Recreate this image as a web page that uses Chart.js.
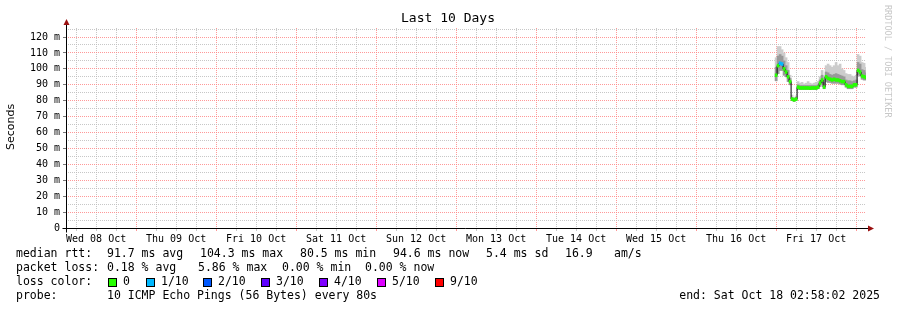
<!DOCTYPE html>
<html><head><meta charset="utf-8">
<script src="https://cdn.jsdelivr.net/npm/chart.js@4/dist/chart.umd.min.js"></script>
<style>html,body{margin:0;padding:0;background:#fff;}#wrap{width:897px;height:310px;position:relative}</style>
</head><body><div id="wrap"><canvas id="c" width="897" height="310"></canvas></div>
<script>
// time axis: hours after Wed 08 Oct 2025 00:00
const graphStartHour = 2.9672;      // Wed 08 Oct 02:58:02
const graphEndHour = 242.9672;      // Sat 18 Oct 02:58:02
const firstSampleHour = 216.0;      // first sample with data (Fri 17 Oct ~00:00)
const sampleStepHours = 0.6;

const dayLabels = ['Wed 08 Oct','Thu 09 Oct','Fri 10 Oct','Sat 11 Oct','Sun 12 Oct','Mon 13 Oct','Tue 14 Oct','Wed 15 Oct','Thu 16 Oct','Fri 17 Oct'];

// median rtt (ms)
const median = [96,102,103.5,103,100,98,95,92,81,80.5,
  81,88.5,88,88,88,88,88,87.8,88,88,
  88,88.5,91,93,88.5,95,94,93.5,93,93.5,
  93,93,92.5,92,92,90,89,89,89,90,
  90,99,98,95.5,95,94.6];
// smoke extents (ms)
const smokeMin = [92.5,97,99,99,96,95,92,90,80,79.5,
  80,87,87,87,87,87,87,87,87,87,
  87,87.5,89,91,87.5,92,91.5,91.5,91,91,
  91,91,90.5,90,90,88.5,87.5,87.5,87.5,88.5,
  88.5,96,95.5,93.5,93,93];
const smokeMid = [101,108,109,108,105,102,99,94,82,81,
  82,90,89.5,89.5,89.5,89.5,89.5,89.5,89.5,89.5,
  89.5,90,93,96,91.5,98,97.5,96.5,96,96.5,
  97,96.5,96,95.5,95,93,92.5,92.5,92,92.5,
  93,104,103,99.5,99,97.5];
const smokeMax = [107,114,114,112,110,107,104,96,83.5,82,
  83,92,91,91.5,90.5,91,92,91,90.5,91,
  91.5,92,95,99,95,102,103,102,101,102,
  104,102,103,100,99,97,96.5,96.5,95.5,95,
  96,109,108,104,103.5,101];
// packet loss per sample (pings lost out of 10)
const lossTenths = [0,0,1,1,0,0,0,0,0,0,
  0,0,0,0,0,0,0,0,0,0,
  0,0,0,0,0,0,0,0,0,0,
  0,0,0,0,0,0,0,0,0,0,
  0,0,0,0,0,0];

const lossColors = {0:'#26ff00',1:'#00b8ff',2:'#0059ff',3:'#5e00ff',4:'#7e00ff',5:'#dd00ff',9:'#ff0000'};
const legendLossKeys = [0,1,2,3,4,5,9];
const legendLossLabels = ['0','1/10','2/10','3/10','4/10','5/10','9/10'];

const hours = median.map((_, i) => firstSampleHour + i * sampleStepHours);
const pts = (lo, hi) => hours.map((h, i) => ({x: h, y: [lo[i], hi[i]]}));
const BAND = 0.9; // half thickness of the loss-coloured median band (style)

const MONO = '"DejaVu Sans Mono", monospace';
const RED_GRID = 'rgba(255,128,128,0.8)';
const GRAY_GRID = 'rgba(185,185,185,0.8)';

const overlay = {
  id: 'overlay',
  afterDraw(chart) {
    const ctx = chart.ctx;
    const xs = chart.scales.x, ys = chart.scales.y;
    const x0 = Math.round(xs.left) + 0.5, y0 = Math.round(ys.bottom) + 0.5;
    ctx.save();
    // axes
    ctx.strokeStyle = '#000'; ctx.lineWidth = 1;
    ctx.beginPath();
    ctx.moveTo(x0, y0 + 4); ctx.lineTo(x0, ys.top - 4);
    ctx.moveTo(x0 - 4, y0); ctx.lineTo(xs.right + 3, y0);
    ctx.stroke();
    // arrows
    ctx.fillStyle = '#9a1010';
    ctx.beginPath();
    ctx.moveTo(x0 - 3, ys.top - 3); ctx.lineTo(x0 + 3, ys.top - 3); ctx.lineTo(x0, ys.top - 9); ctx.closePath(); ctx.fill();
    ctx.beginPath();
    ctx.moveTo(xs.right + 2, y0 - 3); ctx.lineTo(xs.right + 2, y0 + 3); ctx.lineTo(xs.right + 8, y0); ctx.closePath(); ctx.fill();
    // title
    ctx.fillStyle = '#000';
    ctx.font = '13px ' + MONO;
    ctx.textAlign = 'center'; ctx.textBaseline = 'middle';
    ctx.fillText('Last 10 Days', 448, 19);
    // y title
    ctx.save();
    ctx.translate(11, 127); ctx.rotate(-Math.PI / 2);
    ctx.font = '11px "DejaVu Sans", sans-serif';
    ctx.fillText('Seconds', 0, 0);
    ctx.restore();
    // watermark
    ctx.save();
    ctx.translate(887, 5); ctx.rotate(Math.PI / 2);
    ctx.font = '8.5px ' + MONO; ctx.fillStyle = '#c8c8c8';
    ctx.textAlign = 'left';
    ctx.fillText('RRDTOOL / TOBI OETIKER', 0, 0);
    ctx.restore();
    // legend
    ctx.font = '11.5px ' + MONO; ctx.fillStyle = '#000';
    ctx.textAlign = 'left'; ctx.textBaseline = 'middle';
    const L = [
      [254, [[16,'median rtt:'],[107,'91.7 ms avg'],[200,'104.3 ms max'],[300,'80.5 ms min'],[393,'94.6 ms now'],[486,'5.4 ms sd'],[565,'16.9'],[614,'am/s']]],
      [268, [[16,'packet loss:'],[107,'0.18 % avg'],[198,'5.86 % max'],[282,'0.00 % min'],[365,'0.00 % now']]],
      [282, [[16,'loss color:']]],
      [296, [[16,'probe:'],[107,'10 ICMP Echo Pings (56 Bytes) every 80s']]]
    ];
    L.forEach(([y, items]) => items.forEach(([x, t]) => ctx.fillText(t, x, y)));
    const boxX = [108,146,203,261,319,377,435];
    legendLossKeys.forEach((k, i) => {
      ctx.fillStyle = lossColors[k];
      ctx.fillRect(boxX[i], 278, 8, 8);
      ctx.strokeStyle = '#000';
      ctx.strokeRect(boxX[i] + 0.5, 278.5, 8, 8);
      ctx.fillStyle = '#000';
      ctx.fillText(legendLossLabels[i], boxX[i] + 15, 282);
    });
    ctx.textAlign = 'right';
    ctx.fillText('end: Sat Oct 18 02:58:02 2025', 880, 296);
    ctx.restore();
  }
};

new Chart(document.getElementById('c'), {
  type: 'bar',
  data: {
    datasets: [
      { type: 'bar', label: 'loss', data: hours.map((h, i) => ({x: h, y: [median[i] - BAND, median[i] + BAND]})),
        backgroundColor: lossTenths.map(l => lossColors[l] || '#ff0000'), grouped: false,
        barPercentage: 1, categoryPercentage: 1, borderWidth: 0 },
      { type: 'line', label: 'median', data: hours.map((h, i) => ({x: h, y: median[i]})),
        borderColor: '#000', borderWidth: 1, pointRadius: 0, stepped: 'middle', fill: false },
      { type: 'bar', label: 'smoke mid', data: pts(smokeMin, smokeMid), backgroundColor: '#999999',
        grouped: false, barPercentage: 1, categoryPercentage: 1, borderWidth: 0 },
      { type: 'bar', label: 'smoke', data: pts(smokeMin, smokeMax), backgroundColor: '#cccccc',
        grouped: false, barPercentage: 1, categoryPercentage: 1, borderWidth: 0 }
    ]
  },
  options: {
    responsive: false, animation: false, devicePixelRatio: 1,
    layout: { padding: { left: 0, right: 31, top: 28, bottom: 0 } },
    plugins: { legend: { display: false }, title: { display: false }, tooltip: { enabled: false } },
    scales: {
      x: {
        type: 'linear', min: graphStartHour, max: graphEndHour, offset: false,
        afterBuildTicks: s => { const t = []; for (let h = 6; h <= 240; h += 6) t.push({value: h}); s.ticks = t; },
        afterFit: s => { s.height = 82; },
        border: { display: false, dash: [1, 1] },
        grid: {
          offset: false,
          color: c => (c.tick && c.tick.value % 24 === 0) ? RED_GRID : GRAY_GRID,
          tickColor: c => (c.tick && c.tick.value % 24 === 0) ? RED_GRID : GRAY_GRID,
          tickLength: 3, drawTicks: true
        },
        ticks: {
          autoSkip: false, maxRotation: 0, minRotation: 0, padding: 2, color: '#000',
          font: { family: MONO, size: 10 },
          callback: v => (v % 24 === 12) ? dayLabels[(v - 12) / 24] : ''
        }
      },
      y: {
        min: 0, max: 125.66,
        afterBuildTicks: s => { const t = []; for (let v = 0; v <= 125; v += 5) t.push({value: v}); s.ticks = t; },
        afterFit: s => { s.width = 66; },
        border: { display: false, dash: [1, 1] },
        grid: {
          offset: false,
          color: c => (c.tick && c.tick.value % 10 === 0) ? RED_GRID : GRAY_GRID,
          tickColor: c => (c.tick && c.tick.value % 10 === 0) ? '#777' : 'rgba(0,0,0,0)',
          tickLength: 3, drawTicks: true
        },
        ticks: {
          autoSkip: false, padding: 3, color: '#000',
          font: { family: MONO, size: 10 },
          callback: v => (v % 10 === 0) ? (v === 0 ? '0' : v + ' m') : ''
        }
      }
    }
  },
  plugins: [overlay]
});
</script></body></html>
